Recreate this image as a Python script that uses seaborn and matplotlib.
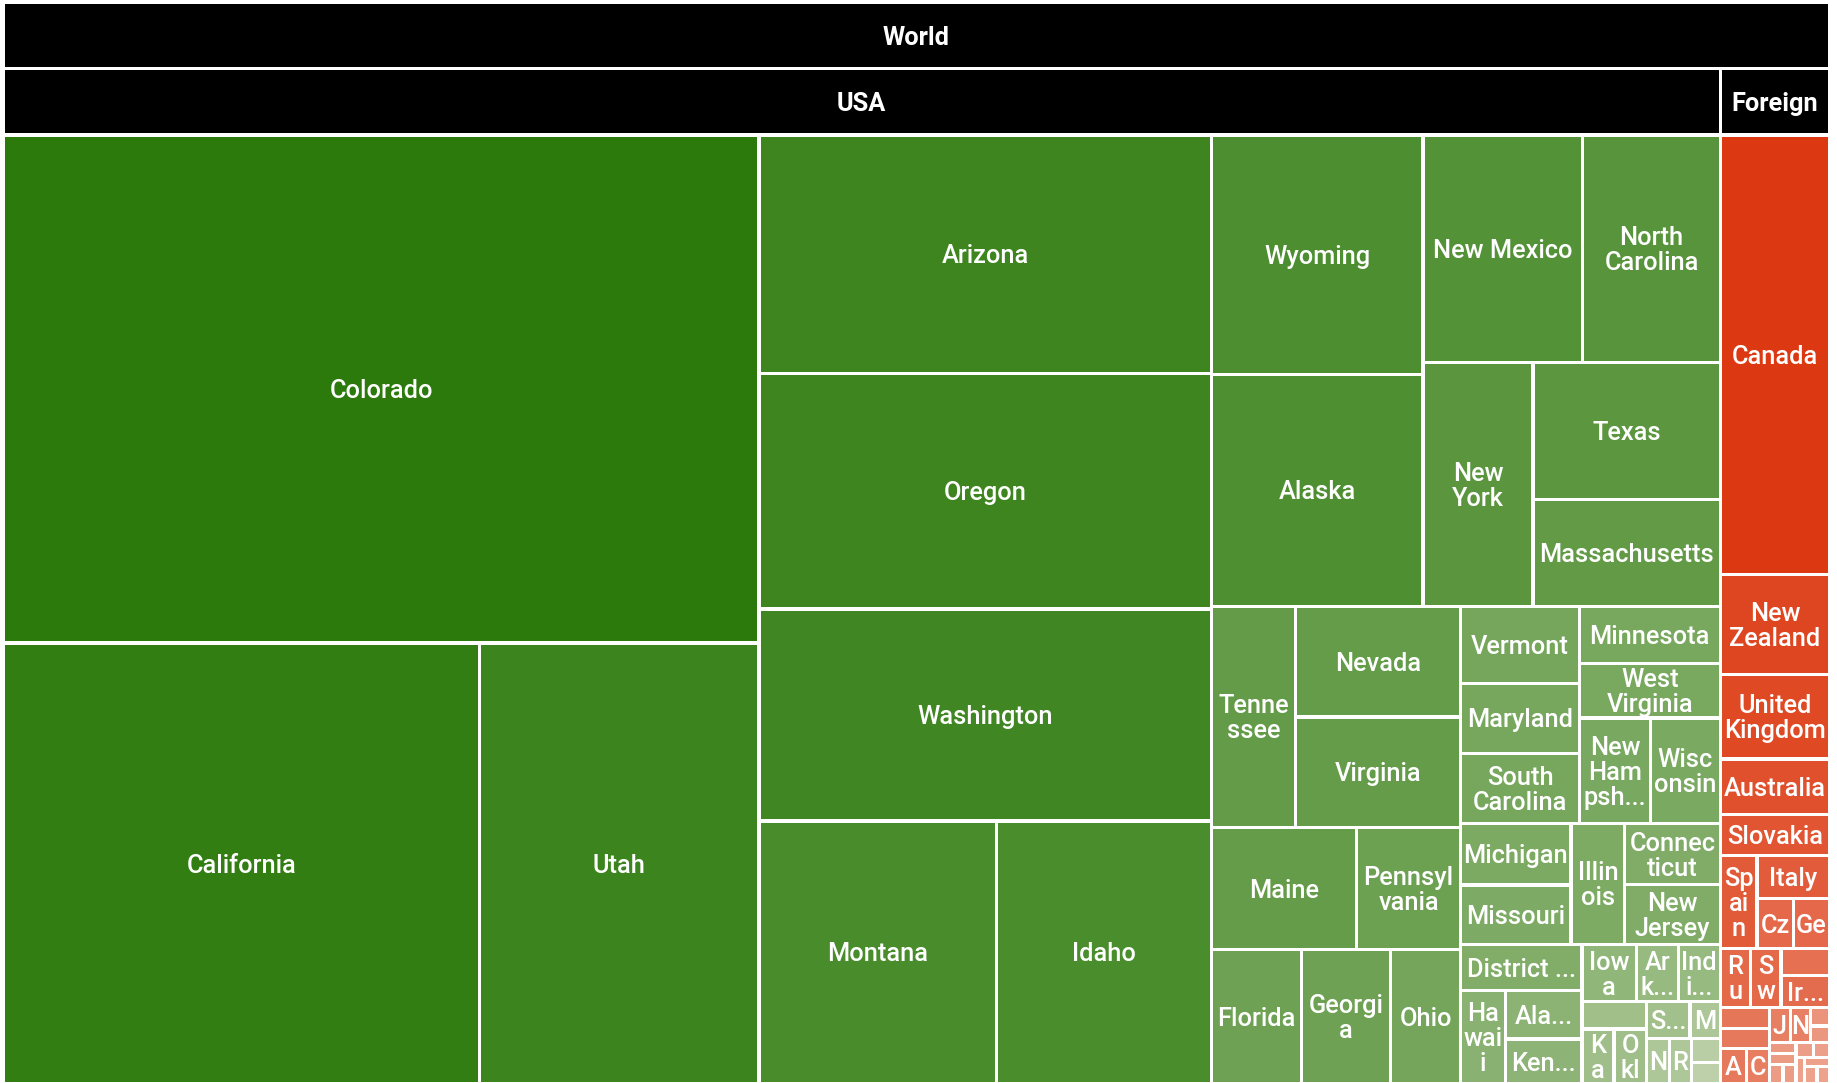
import numpy as np
import matplotlib
matplotlib.use("Agg")
import matplotlib.pyplot as plt
from matplotlib.patches import Rectangle
from matplotlib.font_manager import FontProperties
import seaborn as sns

# cell sizes (relative areas), in the order the chart lays them out
root_name = "World"
group_names = ["USA", "Foreign"]

usa_states = [
    "Colorado", "California", "Utah", "Arizona", "Oregon", "Washington", "Montana", "Idaho",
    "Wyoming", "Alaska", "New Mexico", "North Carolina", "New York", "Texas", "Massachusetts",
    "Tennessee", "Nevada", "Virginia", "Maine", "Pennsylvania", "Florida", "Georgia", "Ohio",
    "Vermont", "Maryland", "South Carolina", "Minnesota", "West Virginia", "New Hampshire",
    "Wisconsin", "Michigan", "Missouri", "Illinois", "Connecticut", "New Jersey",
    "District of Columbia", "Hawaii", "Alabama", "Kentucky", "Iowa", "Arkansas", "Indiana",
    "Louisiana", "Kansas", "Oklahoma", "South Dakota", "Mississippi", "Nebraska",
    "Rhode Island", "North Dakota", "Delaware",
]
usa_values = [
    382.8, 209.4, 122.8, 107.8, 106.3, 95.6, 62.3, 56.5,
    50.4, 48.9, 36.3, 31.2, 26.8, 25.5, 20.0,
    18.4, 18.2, 18.2, 17.7, 12.7, 12.0, 11.9, 9.4,
    9.1, 8.3, 8.3, 8.0, 7.66, 7.5,
    7.3, 6.75, 6.54, 6.48, 5.8, 5.7,
    5.6, 4.15, 3.7, 3.45, 3.1, 2.4, 2.4,
    1.75, 1.76, 1.76, 1.59, 1.1, 1.05,
    1.03, 0.7, 0.6,
]

foreign_countries = [
    "Canada", "New Zealand", "United Kingdom", "Australia", "Slovakia", "Spain", "Italy",
    "Czech Republic", "Germany", "Russia", "Switzerland", "France", "Ireland", "Sweden",
    "Denmark", "Austria", "Croatia", "Japan", "Norway", "Belgium", "Poland", "Brazil",
    "India", "Mexico", "Israel", "Finland", "Portugal", "Hungary", "Greece", "Chile", "Taiwan",
]
foreign_values = [
    48.0, 10.85, 9.27, 6.06, 4.45, 3.41, 3.14,
    1.8, 1.8, 1.78, 1.78, 1.33, 1.53, 1.05,
    0.95, 0.95, 0.8, 0.75, 0.7, 0.36, 0.32, 0.3,
    0.28, 0.27, 0.26, 0.25, 0.24, 0.23, 0.23, 0.22, 0.22,
]

W, H = 1837, 1083
X0, Y0, X1, Y1 = 3.35, 2.35, 1829.65, 1084.0
HEADER = 66.3
GAP = 1.65
LINE = 25.0
FONT_PT = 18.3

sns.set_theme(style="white")
plt.rcParams["font.family"] = ["Roboto", "DejaVu Sans"]

usa_cmap = sns.blend_palette(["#2b7a0b", "#bdd0a9"], as_cmap=True)
foreign_cmap = sns.blend_palette(["#dc3912", "#eda28c"], as_cmap=True)


def halve(values, x0, y0, x1, y1):
    # leading items up to half of the total go into the first part, split along the long side
    vals = np.asarray(values, float)
    n = len(vals)
    if n == 1:
        return [(x0, y0, x1, y1)]
    cum = np.cumsum(vals)
    k = int(np.searchsorted(cum, cum[-1] / 2, side="right"))
    k = min(max(k, 1), n - 1)
    f = cum[k - 1] / cum[-1]
    if x1 - x0 > y1 - y0:
        xm = x0 + (x1 - x0) * f
        return halve(vals[:k], x0, y0, xm, y1) + halve(vals[k:], xm, y0, x1, y1)
    ym = y0 + (y1 - y0) * f
    return halve(vals[:k], x0, y0, x1, ym) + halve(vals[k:], x0, ym, x1, y1)


fig = plt.figure(figsize=(W / 100, H / 100), dpi=100)
ax = fig.add_axes([0, 0, 1, 1])
ax.set_xlim(0, W)
ax.set_ylim(H, 0)
ax.axis("off")
renderer = fig.canvas.get_renderer()

label_fp = FontProperties(family=["Roboto", "DejaVu Sans"], weight="medium", size=FONT_PT)
header_fp = FontProperties(family=["Roboto", "DejaVu Sans"], weight="bold", size=FONT_PT)
cap = 0.711 * FONT_PT * 100 / 72


def tw(s):
    return renderer.get_text_width_height_descent(s, label_fp, ismath=False)[0]


def wrap_label(name, w, h):
    avail = w - 5.5
    max_lines = min(3, int((h - 3.5) // LINE))
    if max_lines < 1 or avail < 6:
        return []
    lines, cur = [], ""
    for word in name.split():
        trial = f"{cur} {word}" if cur else word
        if tw(trial) <= avail:
            cur = trial
            continue
        if cur:
            lines.append(cur)
            cur = ""
        while len(word) > 1 and tw(word) > avail:
            i = 1
            while i < len(word) - 1 and tw(word[:i + 1]) <= avail:
                i += 1
            lines.append(word[:i])
            word = word[i:]
        cur = word
    if cur:
        lines.append(cur)
    if len(lines) > max_lines:
        lines = lines[:max_lines]
        last = lines[-1]
        for j in range(len(last), 0, -1):
            if tw(last[:j] + "...") <= avail:
                lines[-1] = last[:j] + "..."
                break
    return lines


def box(x0, y0, x1, y1, color):
    ax.add_patch(Rectangle((x0 + GAP, y0 + GAP), x1 - x0 - 2 * GAP, y1 - y0 - 2 * GAP,
                           facecolor=color, edgecolor="none"))


def header(name, x0, y0, x1):
    box(x0, y0, x1, y0 + HEADER, "black")
    ax.text((x0 + x1) / 2, y0 + HEADER / 2 + cap / 2, name, color="white",
            fontproperties=header_fp, ha="center", va="baseline")


def shade(values, power):
    v = np.log(np.asarray(values, float))
    t = (v.max() - v) / (v.max() - v.min())
    return t ** power


header(root_name, X0, Y0, X1)
groups = [(usa_states, usa_values, usa_cmap, 1.25),
          (foreign_countries, foreign_values, foreign_cmap, 1.6)]
group_rects = halve([sum(g[1]) for g in groups], X0, Y0 + HEADER, X1, Y1)

for gname, (names, values, cmap, power), (gx0, gy0, gx1, gy1) in zip(group_names, groups, group_rects):
    header(gname, gx0, gy0, gx1)
    rects = halve(values, gx0, gy0 + HEADER, gx1, gy1)
    for name, t, (x0, y0, x1, y1) in zip(names, shade(values, power), rects):
        box(x0, y0, x1, y1, cmap(t))
        lines = wrap_label(name, x1 - x0, y1 - y0)
        cx, cy = (x0 + x1) / 2, (y0 + y1) / 2
        for i, line in enumerate(lines):
            ly = cy + (i - (len(lines) - 1) / 2) * LINE + cap / 2
            ax.text(cx, ly, line, color="white", fontproperties=label_fp,
                    ha="center", va="baseline", clip_on=True)

fig.savefig("out.png", dpi=100, facecolor="white")
